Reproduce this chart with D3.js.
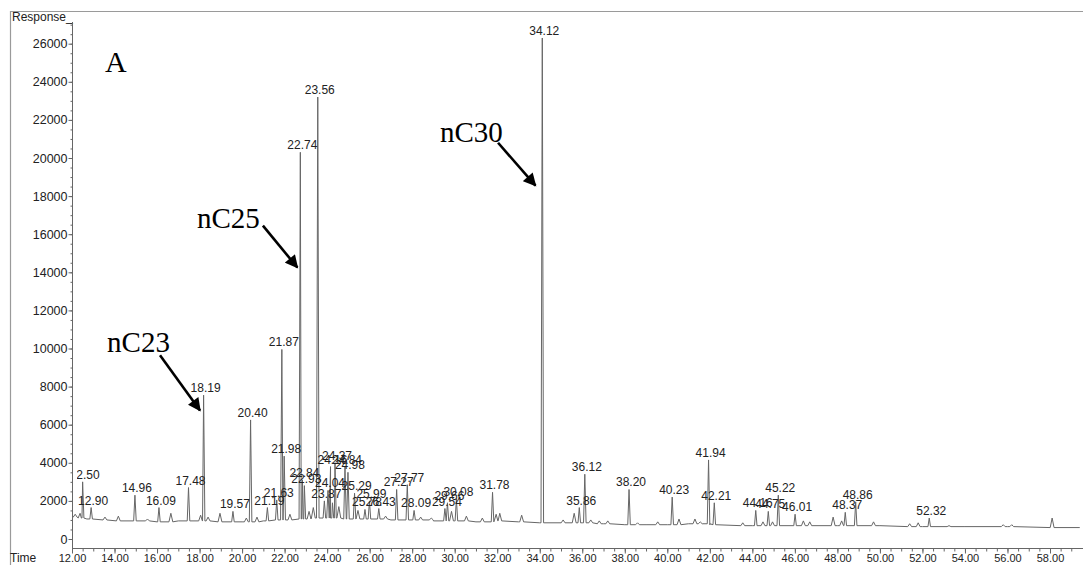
<!DOCTYPE html>
<html>
<head>
<meta charset="utf-8">
<script src="https://cdnjs.cloudflare.com/ajax/libs/d3/7.8.5/d3.min.js"></script>
<style>
  body { margin: 0; background: #fff; }
  svg { display: block; }
</style>
</head>
<body>
<div id="container"></div>
<script>
// labelled peaks: retention time (min), apex response, local baseline
const peakLabels = ['12.50','12.90','14.96','16.09','17.48','18.19','19.57','20.40','21.19','21.63','21.87','21.98','22.74','22.84','22.93','23.56','23.87','24.04','24.16','24.37','24.84','24.98','25.29','25.78','25.99','26.43','27.27','27.77','28.09','29.54','29.66','30.08','31.78','34.12','35.86','36.12','38.20','40.23','41.94','42.21','44.16','44.75','45.22','46.01','48.37','48.86','52.32'];
const peakTimes = [12.50,12.90,14.96,16.09,17.48,18.19,19.57,20.40,21.19,21.63,21.87,21.98,22.74,22.84,22.93,23.56,23.87,24.04,24.16,24.37,24.84,24.98,25.29,25.78,25.99,26.43,27.27,27.77,28.09,29.54,29.66,30.08,31.78,34.12,35.86,36.12,38.20,40.23,41.94,42.21,44.16,44.75,45.22,46.01,48.37,48.86,52.32];
const peakHeights = [3000,1650,2300,1650,2700,7550,1450,6250,1650,2050,9950,4350,20300,3100,2800,23200,2000,2550,3800,4000,3800,3500,2400,1550,2000,1600,2600,2850,1500,1600,1900,2100,2450,26300,1650,3400,2600,2200,4150,1900,1500,1450,2300,1300,1400,1950,1100];
const peakBase = [1100,1050,950,900,950,950,900,900,950,1000,1000,1000,1050,1050,1050,1100,1100,1100,1100,1100,1050,1050,1050,1050,1050,1050,1000,1000,1000,950,950,950,900,850,850,850,750,750,800,750,700,700,700,700,700,700,650];

// small unlabelled bumps
const minorTimes = [12.15,12.38,13.55,14.18,15.55,16.65,18.05,18.40,18.96,20.20,20.70,22.25,23.15,23.35,24.25,24.55,25.45,26.75,28.40,28.90,29.85,30.55,31.30,31.95,32.12,33.15,35.10,35.62,36.40,36.80,37.20,38.60,39.55,40.55,41.30,41.55,43.55,44.50,44.95,46.40,46.70,47.80,48.20,49.70,51.40,51.80,53.25,55.80,56.20,58.10];
const minorHeights = [1300,1350,1150,1200,1050,1350,1250,1150,1350,1100,1150,1300,1450,1650,1900,1700,1500,1200,1150,1100,1450,1200,1100,1300,1350,1250,1000,1350,1000,950,950,850,900,1050,1050,900,850,900,900,950,900,1150,950,900,800,850,700,750,750,1100];
const minorBase = [1150,1100,1000,950,950,900,950,950,900,900,900,1000,1050,1100,1100,1100,1050,1050,1000,1000,950,950,900,950,950,900,850,850,850,800,800,750,750,750,800,800,700,700,700,700,700,700,700,700,650,650,650,650,650,600];

// baseline drift
const baseTimes = [12.0,12.7,13.5,15,16,17,18,19,20,21,22,23,24,25,26,27,28,29,30,31,32,33,34,35,36,37,38,39,40,41,42,44,46,48,50,52,54,56,58,59.4];
const baseResp = [1150,1050,950,950,900,950,950,900,900,950,1000,1050,1100,1050,1050,1000,1000,950,950,900,950,900,850,850,850,800,750,750,750,800,750,700,750,700,700,650,650,650,600,600];

// axis ticks
const xTicks = [12,14,16,18,20,22,24,26,28,30,32,34,36,38,40,42,44,46,48,50,52,54,56,58];
const yTicks = [0,2000,4000,6000,8000,10000,12000,14000,16000,18000,20000,22000,24000,26000];

// compound annotations (data coords)
const annoNames = ['nC23','nC25','nC30'];
const annoText = [[13.65, 9800], [17.88, 16300], [29.31, 20850]];
const annoFrom = [[16.14, 9650], [20.98, 16450], [32.04, 20800]];
const annoTo = [[18.02, 6750], [22.60, 14250], [33.80, 18550]];

const W = 1083, H = 565;
const svg = d3.select('#container')
              .append('svg')
              .attr('width', W)
              .attr('height', H);

const x = d3.scaleLinear().domain([12, 58]).range([72, 1050]);
const y = d3.scaleLinear().domain([0, 26000]).range([539, 43.7]);

const grey = '#666';
const sans = '"Liberation Sans", Arial, sans-serif';

// frame
svg.append('path')
   .attr('d', `M10.5,${H} V11.5 H${W}`)
   .attr('fill', 'none')
   .attr('stroke', '#9a9a9a')
   .attr('stroke-width', 1.2);

svg.append('text')
   .attr('x', 12)
   .attr('y', 21)
   .attr('font-family', sans)
   .attr('font-size', 12)
   .attr('fill', '#222')
   .text('Response_');

svg.append('text')
   .attr('x', 10)
   .attr('y', 562)
   .attr('font-family', sans)
   .attr('font-size', 12)
   .attr('fill', '#222')
   .text('Time');

const defs = svg.append('defs');
defs.append('clipPath')
   .attr('id', 'plot')
   .append('rect')
   .attr('x', 73).attr('y', 0)
   .attr('width', W - 73).attr('height', 547);
defs.append('clipPath')
   .attr('id', 'labels')
   .append('rect')
   .attr('x', 77).attr('y', 0)
   .attr('width', W - 77).attr('height', 547);

// axes
const yAxis = svg.append('g')
   .attr('transform', 'translate(72.5,0)')
   .call(d3.axisLeft(y).tickValues(yTicks).tickSize(4).tickPadding(1).tickFormat(d3.format('d')));
yAxis.select('.domain').remove();
svg.append('g')
   .attr('transform', 'translate(72.5,0)')
   .call(d3.axisLeft(y).tickValues(d3.range(0, 27001, 500)).tickSize(2).tickFormat(''))
   .select('.domain').remove();
svg.append('line')
   .attr('x1', 72.5).attr('x2', 72.5)
   .attr('y1', 22).attr('y2', 548)
   .attr('stroke', grey);

const xAxis = svg.append('g')
   .attr('transform', 'translate(0,548.5)')
   .call(d3.axisBottom(x).tickValues(xTicks).tickSize(5).tickPadding(1).tickFormat(d3.format('.2f')));
xAxis.select('.domain').remove();
svg.append('g')
   .attr('transform', 'translate(0,548.5)')
   .call(d3.axisBottom(x).tickValues(d3.range(12, 59.5, 0.5)).tickSize(3).tickFormat(''))
   .select('.domain').remove();
svg.append('line')
   .attr('x1', 72).attr('x2', W)
   .attr('y1', 548.5).attr('y2', 548.5)
   .attr('stroke', grey);

svg.selectAll('.tick line').attr('stroke', grey);
svg.selectAll('.tick text')
   .attr('font-family', sans)
   .attr('fill', '#222');
yAxis.selectAll('.tick text').attr('font-size', 12.5);
xAxis.selectAll('.tick text').attr('font-size', 11);

// trace: baseline points plus a narrow triangle per peak
const hw = 0.06;
const peaks = peakTimes.map((t, i) => ({t: t, h: peakHeights[i], b: peakBase[i], w: hw}))
   .concat(minorTimes.map((t, i) => ({t: t, h: minorHeights[i], b: minorBase[i], w: 0.09})));
let pts = baseTimes.map((t, i) => [t, baseResp[i]])
   .filter((p) => !peaks.some((k) => Math.abs(p[0] - k.t) <= k.w));
peaks.forEach((k) => {
  pts.push([k.t - k.w, k.b], [k.t, k.h], [k.t + k.w, k.b]);
});
pts.sort((a, b) => a[0] - b[0]);

const line = d3.line().x((d) => x(d[0])).y((d) => y(d[1]));
svg.append('g')
   .attr('clip-path', 'url(#plot)')
   .append('path')
   .datum(pts)
   .attr('d', line)
   .attr('fill', 'none')
   .attr('stroke', grey)
   .attr('stroke-width', 1)
   .attr('stroke-linejoin', 'round');

svg.append('g')
   .attr('clip-path', 'url(#labels)')
   .selectAll('.plabel')
   .data(peakTimes)
   .enter()
   .append('text')
   .attr('class', 'plabel')
   .attr('x', (d) => x(d) + 2)
   .attr('y', (d, i) => y(peakHeights[i]) - 3)
   .attr('text-anchor', 'middle')
   .attr('font-family', sans)
   .attr('font-size', 12)
   .attr('fill', '#222')
   .text((d, i) => peakLabels[i]);

// annotations
defs.append('marker')
   .attr('id', 'arrow')
   .attr('viewBox', '0 0 10 10')
   .attr('refX', 9).attr('refY', 5)
   .attr('markerWidth', 5.5).attr('markerHeight', 5)
   .attr('orient', 'auto')
   .append('path')
   .attr('d', 'M0,0 L10,5 L0,10 z')
   .attr('fill', '#000');

svg.selectAll('.anno-line')
   .data(annoNames)
   .enter()
   .append('line')
   .attr('class', 'anno-line')
   .attr('x1', (d, i) => x(annoFrom[i][0]))
   .attr('y1', (d, i) => y(annoFrom[i][1]))
   .attr('x2', (d, i) => x(annoTo[i][0]))
   .attr('y2', (d, i) => y(annoTo[i][1]))
   .attr('stroke', '#000')
   .attr('stroke-width', 2.6)
   .attr('marker-end', 'url(#arrow)');

svg.selectAll('.anno-text')
   .data(annoNames)
   .enter()
   .append('text')
   .attr('class', 'anno-text')
   .attr('x', (d, i) => x(annoText[i][0]))
   .attr('y', (d, i) => y(annoText[i][1]))
   .attr('font-family', '"Liberation Serif", "Times New Roman", serif')
   .attr('font-size', 29)
   .attr('fill', '#000')
   .text((d) => d);

svg.append('text')
   .attr('x', 105)
   .attr('y', 72)
   .attr('font-family', '"Liberation Serif", "Times New Roman", serif')
   .attr('font-size', 30)
   .attr('fill', '#000')
   .text('A');
</script>
</body>
</html>
